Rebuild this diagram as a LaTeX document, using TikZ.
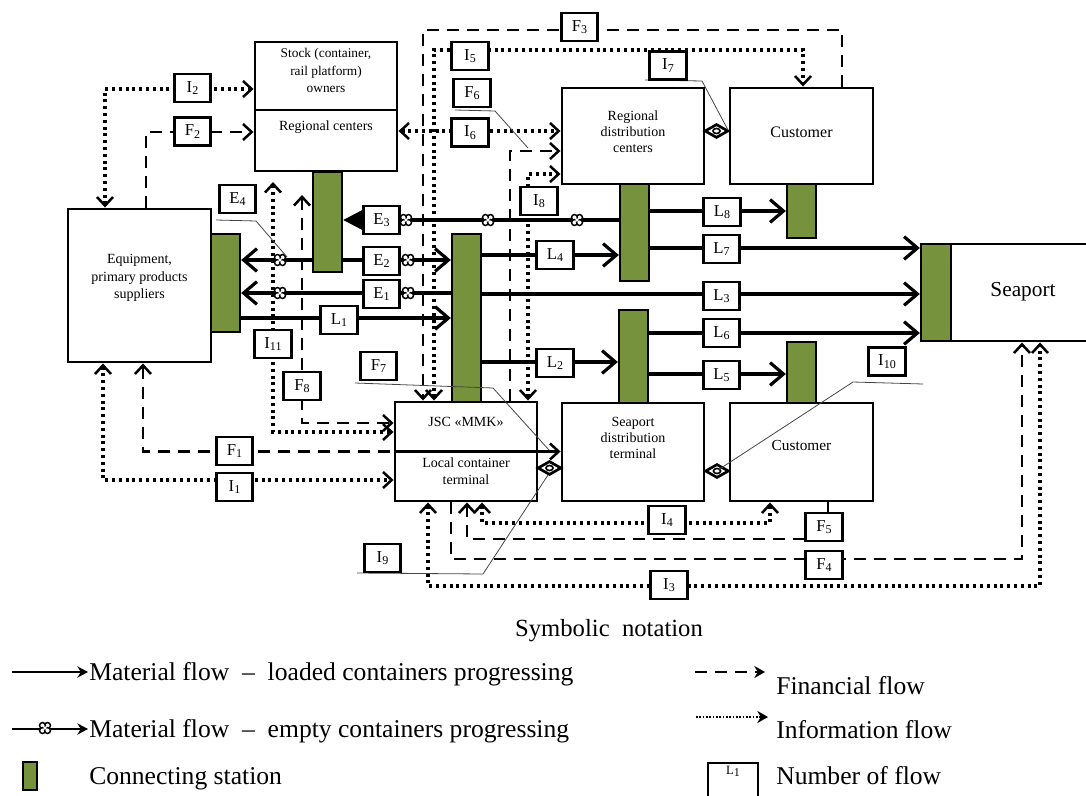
\documentclass[tikz,border=0pt]{standalone}
\usepackage{fontspec}
\setmainfont{Liberation Serif}
\usetikzlibrary{arrows.meta}
\definecolor{stngreen}{RGB}{118,146,60}
\definecolor{leadgray}{RGB}{70,70,70}
\newcommand{\fn}[2]{#1\raisebox{-0.15em}{\fontsize{9}{9}\selectfont#2}}
\begin{document}
\begin{tikzpicture}[x=0.75pt,y=-0.75pt,
  >={Straight Barb[length=6.5pt,width=12pt,line width=1.9pt]},
  box/.style={draw,line width=2.2pt,fill=white,inner sep=0pt},
  station/.style={draw,line width=1.7pt,fill=stngreen,inner sep=0pt,minimum width=21.75pt},
  lb/.style={draw,line width=2.1pt,fill=white,inner sep=0pt,minimum width=27.5pt,minimum height=21pt,font=\fontsize{12.5}{12.5}\selectfont},
  txt/.style={inner sep=0pt,align=center,font=\fontsize{10.5}{12.5}\selectfont},
  mat/.style={line width=2.4pt,-{Straight Barb[length=10pt,width=17pt]}},
  fin/.style={line width=2.1pt,dash pattern=on 9pt off 6pt},
  inf/.style={line width=2.6pt,dash pattern=on 2.3pt off 2.8pt},
  lead/.style={line width=0.6pt,draw=leadgray},
  leg/.style={inner sep=0pt,font=\fontsize{19.2}{19.2}\selectfont},
  emk/.pic={
    \foreach \a in {45,135,225,315} \draw[line width=1.1pt,fill=white] (\a:2.7pt) circle (2.2pt);
    \fill[white] (0pt,0pt) circle (1.4pt);
  },
  eyem/.pic={
    \draw[line width=2pt,fill=white] (-8.5pt,0pt)--(0pt,4.8pt)--(8.5pt,0pt)--(0pt,-4.8pt)--cycle;
    \draw[line width=1.2pt] (0pt,0pt) ellipse (2.7pt and 1.9pt);
  }
]
\useasboundingbox (0,0) rectangle (1086,796);
\clip (0,0) rectangle (1086,796);

% ---------- main boxes
\node[box,minimum width=106.5pt,minimum height=51pt] (stock) at (326,76) {};
\node[box,minimum width=106.5pt,minimum height=45.75pt] (regc) at (326,140.5) {};
\node[box,minimum width=107.25pt,minimum height=114.75pt] (equip) at (139.5,285.5) {};
\node[box,minimum width=106.5pt,minimum height=74.25pt] (jsc) at (466,451.5) {};
\node[box,minimum width=106.5pt,minimum height=72pt] (rdc) at (633,136) {};
\node[box,minimum width=107.25pt,minimum height=72pt] (cust1) at (801.5,136) {};
\node[box,minimum width=108pt,minimum height=72.75pt] (seaport) at (1023,292.5) {};
\node[box,minimum width=106.5pt,minimum height=73.5pt] (sdt) at (633,452) {};
\node[box,minimum width=107.25pt,minimum height=73.5pt] (cust2) at (801.5,452) {};

% ---------- stations
\node[station,minimum height=73.5pt] (Seq) at (225.5,283) {};
\node[station,minimum height=75pt] (Src) at (327.5,222) {};
\node[station,minimum height=126pt] (Sjsc) at (466.5,318) {};
\node[station,minimum height=72.75pt] (Srdc) at (634.5,232.5) {};
\node[station,minimum height=40.5pt] (Sc1) at (801.5,211) {};
\node[station,minimum height=72.75pt,minimum width=22.5pt] (Ssp) at (936,292.5) {};
\node[station,minimum height=69.75pt] (Ssdt) at (633.5,356.5) {};
\node[station,minimum height=45.75pt] (Sc2) at (801.5,372.5) {};

% ---------- box texts
\node[txt,font=\fontsize{10}{13}\selectfont] (tstock) at (326,70.5) {Stock (container,\\rail platform)\\owners};
\node[txt] (tregc) at (326,127) {Regional centers};
\node[txt,font=\fontsize{10.5}{13}\selectfont] (tequip) at (139.5,278) {Equipment,\\primary products\\suppliers};
\node[txt,font=\fontsize{10.5}{12}\selectfont] (trdc) at (633,132) {Regional\\distribution\\centers};
\node[txt,font=\fontsize{12}{14}\selectfont] (tc1) at (801.5,132) {Customer};
\node[txt] (tjsc) at (466,422) {JSC «MMK»};
\node[txt] (tlct) at (466,471) {Local container\\terminal};
\node[txt,font=\fontsize{10.5}{12}\selectfont] (tsdt) at (633,438) {Seaport\\distribution\\terminal};
\node[txt,font=\fontsize{11.5}{13}\selectfont] (tc2) at (801.5,445) {Customer};
\node[txt,font=\fontsize{16}{18}\selectfont] (tsea) at (1023,292) {Seaport};

% JSC divider and F1 continuation
\draw[line width=2.1pt] (jsc.west) -- (jsc.east);
\draw[line width=2.1pt,->] (jsc.east) -- (sdt.west |- jsc.east);

% ---------- material flows
\draw[mat] (Srdc.east |- 0,211) -- (Sc1.west |- 0,211);
\draw[mat] (Srdc.east |- 0,248) -- (Ssp.west |- 0,248);
\draw[mat] (Sjsc.east |- 0,255) -- (Srdc.west |- 0,255);
\draw[mat] (Sjsc.east |- 0,294) -- (Ssp.west |- 0,294);
\draw[mat] (Ssdt.east |- 0,333) -- (Ssp.west |- 0,333);
\draw[mat] (Ssdt.east |- 0,374) -- (Sc2.west |- 0,374);
\draw[mat] (Sjsc.east |- 0,362) -- (Ssdt.west |- 0,362);
\draw[mat] (Seq.east |- 0,318) -- (Sjsc.west |- 0,318);
\draw[line width=2.4pt,-{Triangle[length=15pt,width=15pt]}] (Srdc.west |- 0,220) -- (Src.east |- 0,220);
\draw[mat] (Src.east |- 0,260) -- (Sjsc.west |- 0,260);
\draw[mat] (Src.west |- 0,260) -- (Seq.east |- 0,260);
\draw[mat] (Sjsc.west |- 0,293) -- (Seq.east |- 0,293);

% ---------- financial / information flows
\coordinate (i11t) at (273,182);
\coordinate (f8t) at (302,195);
\draw[inf,<->] (equip.north -| 105,0) |- (stock.west |- 0,89);
\draw[fin,->] (equip.north -| 146,0) |- (regc.west |- 0,132);
\draw[fin,<-] (equip.south -| 143,0) |- (jsc.west);
\draw[inf,<->] (equip.south -| 103,0) |- (jsc.west |- 0,480);
\draw[fin,->] (cust1.north -| 842,0) -- (842,30) -| (jsc.north -| 423,0);
\draw[inf,<->] (jsc.north -| 434,0) |- (803,50) -- (cust1.north -| 803,0);
\draw[inf,<->] (regc.east |- 0,131) -- (rdc.west |- 0,131);
\draw[fin,->] (jsc.north -| 510,0) |- (rdc.west |- 0,151);
\draw[inf,<->] (jsc.north -| 528,0) |- (rdc.west |- 0,174);
\draw[inf,<->] (i11t) |- (jsc.west |- 0,432);
\draw[fin,<->] (f8t) |- (jsc.west |- 0,423);
\draw[inf,<->] (jsc.south -| 482,0) |- (770,523) -- (cust2.south -| 770,0);
\draw[fin,->] (cust2.south -| 828,0) |- (467,539) -- (jsc.south -| 467,0);
\draw[fin,->] (jsc.south -| 451,0) |- (1022,559) -- (seaport.south -| 1022,0);
\draw[inf,<->] (jsc.south -| 428,0) |- (1040,586) -- (seaport.south -| 1040,0);

% ---------- empty-container marks
\foreach \p in {(406,220),(488,220),(577,220),(408,260),(280,260),(408,293),(280,293)}
  \pic at \p {emk};
% ---------- bidirectional marks
\pic at (716.5,131) {eyem};
\pic at (549.5,468) {eyem};
\pic at (717,471) {eyem};

% ---------- leader lines
\coordinate (e4a) at (216,220); \coordinate (e4b) at (256,221); \coordinate (e4c) at (287,257);
\coordinate (f6a) at (455,110); \coordinate (f6b) at (495,111); \coordinate (f6c) at (528,148);
\coordinate (i7a) at (645,80);  \coordinate (i7b) at (702,81);  \coordinate (i7c) at (728,130);
\coordinate (f7a) at (355,383); \coordinate (f7b) at (493,388); \coordinate (f7c) at (549,450);
\coordinate (i9a) at (357,573); \coordinate (i9b) at (483,574); \coordinate (i9c) at (548,475);
\coordinate (i10a) at (923,384); \coordinate (i10b) at (853,382); \coordinate (i10c) at (718,470);
\draw[lead] (e4a) -- (e4b) -- (e4c);
\draw[lead] (f6a) -- (f6b) -- (f6c);
\draw[lead] (i7a) -- (i7b) -- (i7c);
\draw[lead] (f7a) -- (f7b) -- (f7c);
\draw[lead] (i9a) -- (i9b) -- (i9c);
\draw[lead] (i10a) -- (i10b) -- (i10c);

% ---------- flow number boxes
\node[lb] (lL8) at (722,212) {\fn{L}{8}};
\node[lb] (lL7) at (721.5,249) {\fn{L}{7}};
\node[lb] (lL4) at (555,255) {\fn{L}{4}};
\node[lb] (lL3) at (721.5,296) {\fn{L}{3}};
\node[lb] (lL6) at (721.5,333) {\fn{L}{6}};
\node[lb] (lL5) at (721.5,375) {\fn{L}{5}};
\node[lb] (lL2) at (555,363) {\fn{L}{2}};
\node[lb] (lL1) at (339,320) {\fn{L}{1}};
\node[lb] (lE3) at (381.5,220) {\fn{E}{3}};
\node[lb] (lE2) at (381.5,261) {\fn{E}{2}};
\node[lb] (lE1) at (381.5,294) {\fn{E}{1}};
\node[lb] (lE4) at (237.5,199) {\fn{E}{4}};
\node[lb] (lI2) at (192.5,88) {\fn{I}{2}};
\node[lb] (lF2) at (192.5,131.5) {\fn{F}{2}};
\node[lb] (lF1) at (234.5,451) {\fn{F}{1}};
\node[lb] (lI1) at (234.5,487) {\fn{I}{1}};
\node[lb] (lF3) at (579.5,27) {\fn{F}{3}};
\node[lb] (lI5) at (470,56) {\fn{I}{5}};
\node[lb] (lI6) at (470,132.5) {\fn{I}{6}};
\node[lb] (lF6) at (472,93) {\fn{F}{6}};
\node[lb] (lI7) at (668,65.5) {\fn{I}{7}};
\node[lb] (lI8) at (539,201) {\fn{I}{8}};
\node[lb] (lF7) at (378.5,366) {\fn{F}{7}};
\node[lb] (lI9) at (382.5,558) {\fn{I}{9}};
\node[lb] (lI10) at (887,361.5) {\fn{I}{10}};
\node[lb] (lI11) at (273,344) {\fn{I}{11}};
\node[lb] (lF8) at (302,386) {\fn{F}{8}};
\node[lb] (lI4) at (667,520) {\fn{I}{4}};
\node[lb] (lF5) at (824,527) {\fn{F}{5}};
\node[lb] (lF4) at (824,565) {\fn{F}{4}};
\node[lb] (lI3) at (669,585) {\fn{I}{3}};

% ---------- legend
\node[leg,font=\fontsize{18.5}{18.5}\selectfont,anchor=base] (symn) at (609,636) {Symbolic\ \ notation};
\coordinate (g1a) at (12,672); \coordinate (g1b) at (88,672);
\draw[line width=1.7pt,-{Stealth[length=8pt,width=8.5pt]}] (g1a) -- (g1b);
\node[leg,anchor=base west] (g1t) at (89,680) {Material flow\ \ –\ \ loaded containers progressing};
\coordinate (g2a) at (12,729); \coordinate (g2b) at (88,729);
\draw[line width=1.7pt,-{Stealth[length=8pt,width=8.5pt]}] (g2a) -- (g2b);
\pic at (45,728) {emk};
\node[leg,anchor=base west] (g2t) at (89,737) {Material flow\ \ –\ \ empty containers progressing};
\node[draw,line width=1.6pt,fill=stngreen,minimum width=10.5pt,minimum height=21pt,inner sep=0pt] (g3s) at (30,776) {};
\node[leg,anchor=base west] (g3t) at (89,784) {Connecting station};
\coordinate (g4a) at (695,672); \coordinate (g4b) at (765,672);
\draw[line width=2.2pt,dash pattern=on 9pt off 6pt,-{Stealth[length=8pt,width=9pt]}] (g4a) -- (g4b);
\node[leg,anchor=base west] (g4t) at (776,694) {Financial flow};
\coordinate (g5a) at (696,717); \coordinate (g5b) at (768,717);
\draw[line width=1.8pt,dash pattern=on 1.2pt off 1.3pt,-{Stealth[length=8pt,width=9pt]}] (g5a) -- (g5b);
\node[leg,anchor=base west] (g5t) at (776,738) {Information flow};
\node[draw,line width=1.7pt,minimum width=37.5pt,minimum height=26pt,inner sep=0pt] (g6b) at (733,780) {};
\node[inner sep=0pt,font=\fontsize{9.5}{9.5}\selectfont] (g6l) at (733,771) {\fn{L}{1}};
\node[leg,anchor=base west] (g6t) at (776,784) {Number of flow};
\end{tikzpicture}
\end{document}
